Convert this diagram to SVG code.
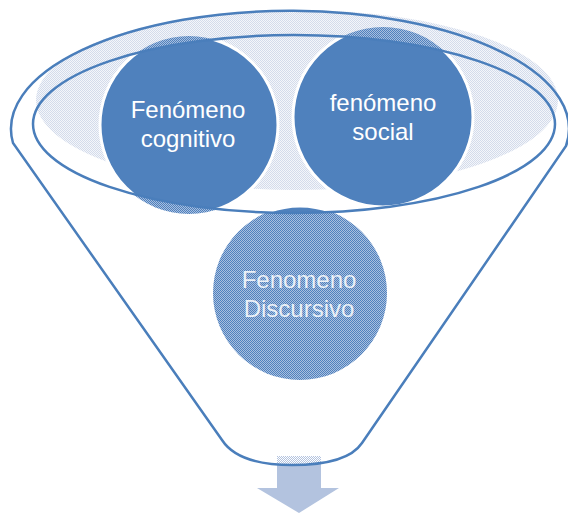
<svg xmlns="http://www.w3.org/2000/svg" width="568" height="514" viewBox="0 0 568 514">
<style>
.line{fill:none;stroke:#4a7ebb;stroke-width:2.5}
.solid{fill:#4f81bd;stroke:#ffffff;stroke-width:3}
.pat{fill:url(#pBlue)}
.lbl{font-family:"Liberation Sans",Arial,sans-serif;font-size:24px;fill:#ffffff;text-anchor:middle}
</style>
<defs>
<pattern id="pLight" width="2" height="2" patternUnits="userSpaceOnUse"><rect width="2" height="2" fill="#f4f6fa"/><rect width="1" height="1" fill="#d3dbeb"/><rect x="1" y="1" width="1" height="1" fill="#d3dbeb"/></pattern>
<pattern id="pBlue" width="2" height="2" patternUnits="userSpaceOnUse"><rect width="2" height="2" fill="#a9bfdf"/><rect width="1" height="1" fill="#4f81bd"/><rect x="1" y="1" width="1" height="1" fill="#4f81bd"/></pattern>
<pattern id="pWhite" width="2" height="2" patternUnits="userSpaceOnUse"><rect width="1" height="1" fill="#ffffff"/><rect x="1" y="1" width="1" height="1" fill="#ffffff"/></pattern>
<clipPath id="innerClip"><ellipse cx="294" cy="124" rx="261" ry="89"/></clipPath>
<clipPath id="funnelClip"><path d="M13,143 A279,118 0 1,1 566,146 L362,443 C352,458 330,465 292,465 C255,465 233,457 222,440 Z"/></clipPath>
</defs>
<rect width="568" height="514" fill="#ffffff"/>
<g id="connectors">
<path d="M277,456 H321 V488 H339 L299,513 L257,488 H277 Z" fill="#b3c3df"/>
<rect x="277" y="455" width="44" height="14" fill="url(#pWhite)" clip-path="url(#funnelClip)"/>
</g>
<g id="funnel-opening">
<ellipse cx="297" cy="100" rx="261" ry="90" fill="url(#pLight)"/>
</g>
<g id="node-cognitivo">
<circle class="pat" cx="189" cy="125" r="89"/>
<circle class="solid" cx="189" cy="125" r="89" clip-path="url(#innerClip)"/>
<text class="lbl" x="188" y="118">Fenómeno</text>
<text class="lbl" x="188" y="147">cognitivo</text>
</g>
<g id="node-social">
<circle class="pat" cx="383" cy="117" r="90"/>
<circle class="solid" cx="383" cy="117" r="90" clip-path="url(#innerClip)"/>
<text class="lbl" x="383" y="111">fenómeno</text>
<text class="lbl" x="383" y="140">social</text>
</g>
<g id="node-discursivo">
<circle class="pat" cx="300" cy="293" r="87"/>
<circle class="solid" cx="300" cy="293" r="87" clip-path="url(#innerClip)"/>
<text class="lbl" x="299" y="288" fill-opacity="0.85">Fenomeno</text>
<text class="lbl" x="299" y="317" fill-opacity="0.85">Discursivo</text>
</g>
<g id="funnel">
<path class="line" d="M13,143 A279,118 0 1,1 566,146 L362,443 C352,458 330,465 292,465 C255,465 233,457 222,440 Z"/>
<ellipse class="line" cx="294" cy="124" rx="261" ry="89"/>
</g>
</svg>
